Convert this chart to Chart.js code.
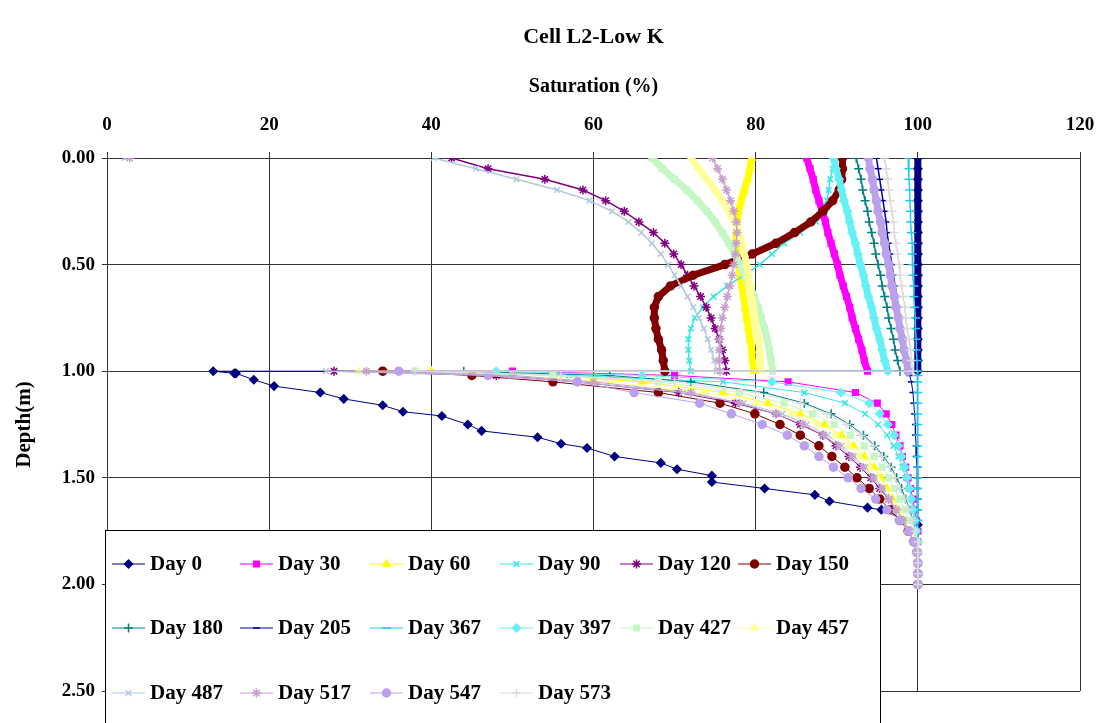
<!DOCTYPE html>
<html>
<head>
<meta charset="utf-8">
<script src="https://cdn.jsdelivr.net/npm/chart.js@4"></script>
<style>
  html, body { margin: 0; padding: 0; background: #fff; overflow: hidden; }
  #wrap { width: 1100px; height: 723px; position: relative; }
  canvas { display: block; }
</style>
</head>
<body>
<div id="wrap"><canvas id="chart-cell"></canvas></div>
<script>
// depth (m) of the read points
const depthUpper = [0, 0.05, 0.1, 0.15, 0.2, 0.25, 0.3, 0.35, 0.4, 0.45, 0.5, 0.55, 0.6, 0.65, 0.7, 0.75, 0.8, 0.85, 0.9, 0.95, 1.0];
const depthLower = [1.0, 1.02, 1.05, 1.1, 1.15, 1.2, 1.25, 1.3, 1.35, 1.4, 1.45, 1.5, 1.55, 1.6, 1.65, 1.7, 1.75, 1.8, 1.85, 1.9, 1.95, 2.0];
const depthDay0Lower = [1.0, 1.01, 1.01, 1.04, 1.07, 1.1, 1.13, 1.16, 1.19, 1.21, 1.25, 1.28, 1.31, 1.34, 1.36, 1.4, 1.43, 1.46, 1.49, 1.52, 1.55, 1.58, 1.61, 1.64, 1.65, 1.72, 2.0];

// saturation (%) - upper layer
const day0Upper   = [100, 100, 100, 100, 100, 100, 100, 100, 100, 100, 100, 100, 100, 100, 100, 100, 100, 100, 100, 100, 100];
const day30Upper  = [86.3, 86.7, 87.1, 87.4, 87.8, 88.2, 88.6, 88.9, 89.3, 89.7, 90.1, 90.4, 90.8, 91.2, 91.6, 91.9, 92.3, 92.7, 93.1, 93.4, 93.8];
const day60Upper  = [79.5, 79.3, 79.0, 78.6, 78.2, 77.9, 77.7, 77.6, 77.6, 77.7, 77.9, 78.1, 78.3, 78.5, 78.7, 78.9, 79.1, 79.3, 79.5, 79.6, 79.8];
const day90Upper  = [89.8, 89.5, 89.2, 89.0, 88.8, 88.5, 87.5, 85.5, 83.5, 82.0, 80.5, 78.5, 76.5, 74.8, 73.5, 72.5, 72.0, 71.7, 71.7, 71.8, 72.0];
const day120Upper = [42.5, 47.0, 54.0, 58.7, 61.5, 63.8, 65.6, 67.4, 68.8, 69.9, 70.8, 71.6, 72.4, 73.2, 73.9, 74.5, 75.0, 75.5, 75.9, 76.2, 76.4];
const day150Upper = [90.7, 90.7, 90.6, 90.3, 89.5, 88.3, 86.8, 84.8, 82.5, 79.6, 76.2, 72.3, 69.5, 68.0, 67.5, 67.5, 67.7, 68.0, 68.4, 68.6, 68.8];
const day180Upper = [92.4, 92.7, 93.0, 93.2, 93.5, 93.8, 94.0, 94.3, 94.6, 94.8, 95.1, 95.4, 95.6, 95.9, 96.2, 96.4, 96.7, 97.0, 97.2, 97.5, 97.8];
const day205Upper = [94.9, 95.1, 95.3, 95.5, 95.7, 95.9, 96.1, 96.2, 96.4, 96.6, 96.8, 97.0, 97.2, 97.4, 97.6, 97.8, 97.9, 98.1, 98.3, 98.5, 98.7];
const day367Upper = [98.8, 98.9, 98.9, 99.0, 99.0, 99.1, 99.1, 99.2, 99.3, 99.3, 99.4, 99.4, 99.5, 99.5, 99.6, 99.7, 99.7, 99.8, 99.8, 99.9, 99.9];
const day397Upper = [89.6, 89.9, 90.3, 90.6, 90.9, 91.3, 91.6, 91.9, 92.3, 92.6, 92.9, 93.3, 93.6, 93.9, 94.3, 94.6, 94.9, 95.3, 95.6, 95.9, 96.3];
const day427Upper = [67.2, 68.5, 70.0, 71.5, 72.8, 74.0, 75.0, 75.9, 76.7, 77.4, 78.1, 78.7, 79.3, 79.8, 80.3, 80.7, 81.1, 81.4, 81.7, 81.9, 82.1];
const day457Upper = [72.0, 73.0, 74.0, 75.0, 75.9, 76.7, 77.4, 77.9, 78.3, 78.6, 78.9, 79.1, 79.3, 79.5, 79.7, 79.9, 80.1, 80.3, 80.5, 80.6, 80.7];
const day487Upper = [40.3, 45.5, 50.5, 55.5, 59.5, 62.3, 64.3, 65.9, 67.2, 68.3, 69.2, 70.0, 70.8, 71.6, 72.3, 73.0, 73.6, 74.1, 74.5, 74.9, 75.2];
const day517Upper = [74.7, 75.3, 75.9, 76.4, 76.9, 77.3, 77.6, 77.7, 77.6, 77.5, 77.3, 77.1, 76.8, 76.5, 76.2, 75.9, 75.7, 75.6, 75.5, 75.5, 75.6];
const day547Upper = [93.9, 94.1, 94.4, 94.6, 94.9, 95.1, 95.4, 95.6, 95.9, 96.1, 96.4, 96.6, 96.8, 97.1, 97.3, 97.6, 97.8, 98.1, 98.3, 98.6, 98.8];
const day573Upper = [95.9, 96.1, 96.3, 96.4, 96.6, 96.8, 97.0, 97.1, 97.3, 97.5, 97.7, 97.8, 98.0, 98.2, 98.4, 98.5, 98.7, 98.9, 99.1, 99.2, 99.4];

// saturation (%) - lower layer
const day0Lower   = [13.1, 15.7, 15.9, 18.1, 20.6, 26.3, 29.2, 34.0, 36.5, 41.3, 44.5, 46.2, 53.1, 56.0, 59.2, 62.6, 68.3, 70.3, 74.6, 74.6, 81.1, 87.3, 89.1, 93.8, 95.5, 100, 100];
const day30Lower  = [50, 70, 84, 92.3, 95.0, 96.1, 96.8, 97.3, 97.8, 98.1, 98.5, 98.8, 99.1, 99.4, 99.6, 99.8, 100, 100, 100, 100, 100, 100];
const day60Lower  = [40, 55, 66, 76, 81.5, 85.5, 88.5, 90.6, 92.1, 93.4, 94.6, 95.5, 96.2, 96.9, 97.6, 98.3, 99.0, 99.5, 99.9, 100, 100, 100];
const day90Lower  = [36, 57, 76, 86, 91, 93.5, 95.1, 96.2, 97, 97.6, 98.1, 98.5, 98.9, 99.2, 99.5, 99.7, 99.9, 100, 100, 100, 100, 100];
const day120Lower = [28, 48, 58, 70.5, 77.5, 82.5, 85.5, 88.3, 89.9, 91.5, 92.9, 94.2, 95.3, 96.4, 97.3, 98.2, 98.9, 99.5, 99.9, 100, 100, 100];
const day150Lower = [34, 45, 55, 68, 75.6, 79.9, 83.0, 85.5, 87.8, 89.4, 91.0, 92.5, 94.0, 95.3, 96.6, 97.8, 98.8, 99.5, 99.9, 100, 100, 100];
const day180Lower = [44, 62, 72, 81, 86, 89.3, 91.6, 93.3, 94.7, 95.8, 96.7, 97.4, 98, 98.5, 99, 99.4, 99.7, 100, 100, 100, 100, 100];
const day205Lower = [98.7, 99.0, 99.2, 99.4, 99.5, 99.6, 99.7, 99.7, 99.8, 99.8, 99.9, 99.9, 99.9, 100, 100, 100, 100, 100, 100, 100, 100, 100];
const day367Lower = [100, 100, 100, 100, 100, 100, 100, 100, 100, 100, 100, 100, 100, 100, 100, 100, 100, 100, 100, 100, 100, 100];
const day397Lower = [48, 66, 82, 90.5, 94, 95.3, 96.3, 97.1, 97.6, 98, 98.4, 98.7, 99, 99.2, 99.4, 99.6, 99.8, 100, 100, 100, 100, 100];
const day427Lower = [38, 55, 68, 78, 83.5, 87, 89.7, 91.7, 93.4, 94.6, 95.6, 96.4, 97.1, 97.8, 98.4, 99, 99.5, 99.8, 100, 100, 100, 100];
const day457Lower = [31, 50, 62, 73.5, 80, 84.5, 87.6, 89.8, 91.4, 92.8, 94, 95, 95.8, 96.6, 97.4, 98.1, 98.8, 99.4, 99.8, 100, 100, 100];
const day487Lower = [27, 47, 58, 71, 78.5, 83.3, 86.3, 88.9, 90.6, 92.1, 93.5, 94.7, 95.7, 96.6, 97.4, 98.2, 98.9, 99.5, 99.9, 100, 100, 100];
const day517Lower = [32, 50, 60, 72, 78, 82.5, 85.8, 88.4, 90.2, 91.8, 93.2, 94.4, 95.5, 96.4, 97.3, 98.1, 98.8, 99.4, 99.8, 100, 100, 100];
const day547Lower = [36, 47, 58, 65, 73.1, 77, 80.8, 83.9, 86, 87.8, 89.6, 91.4, 93, 94.8, 96.2, 97.7, 98.9, 99.5, 99.9, 100, 100, 100];
const day573Lower = [38, 56, 70, 80, 85.5, 88.8, 91.2, 93, 94.5, 95.6, 96.5, 97.2, 97.8, 98.4, 98.9, 99.3, 99.7, 100, 100, 100, 100, 100];

// surface readings at 0 m
const surfacePoints = { "Day 487": 2.2, "Day 517": 2.8 };

const xTicks = [0, 20, 40, 60, 80, 100, 120];
const yTicks = [0, 0.5, 1.0, 1.5, 2.0, 2.5];

// label, upper, lower, lower depth, color, marker, radius, band
const series = [
    ["Day 0",   day0Upper,   day0Lower,   depthDay0Lower, "#000080", "rectRot", 4,   true],
    ["Day 30",  day30Upper,  day30Lower,  depthLower, "#ff00ff", "rect",     4,   true],
    ["Day 60",  day60Upper,  day60Lower,  depthLower, "#ffff00", "triangle", 4,   true],
    ["Day 90",  day90Upper,  day90Lower,  depthLower, "#33e6e6", "crossRot", 4,   false],
    ["Day 120", day120Upper, day120Lower, depthLower, "#800080", "star",     4.5, false],
    ["Day 150", day150Upper, day150Lower, depthLower, "#800000", "circle",   4,   true],
    ["Day 180", day180Upper, day180Lower, depthLower, "#008080", "cross",    4.5, false],
    ["Day 205", day205Upper, day205Lower, depthLower, "#0000a0", "line",     3.5, false],
    ["Day 367", day367Upper, day367Lower, depthLower, "#22c8f0", "line",     4.5, false],
    ["Day 397", day397Upper, day397Lower, depthLower, "#66f0f4", "rectRot",  4,   true],
    ["Day 427", day427Upper, day427Lower, depthLower, "#c4f7c4", "rect",     4,   true],
    ["Day 457", day457Upper, day457Lower, depthLower, "#ffff99", "triangle", 4,   true],
    ["Day 487", day487Upper, day487Lower, depthLower, "#b4c8dc", "crossRot", 4,   false],
    ["Day 517", day517Upper, day517Lower, depthLower, "#c8a0cc", "star",     4.5, false],
    ["Day 547", day547Upper, day547Lower, depthLower, "#bba0ea", "circle",   4,   true],
    ["Day 573", day573Upper, day573Lower, depthLower, "#dcdcdc", "cross",    4.5, false],
];

Chart.defaults.font.family = "'Liberation Serif', 'Times New Roman', serif";
Chart.defaults.color = "#000";

const datasets = series.map(function (s, i) {
    const pts = [];
    if (surfacePoints[s[0]] !== undefined) pts.push({ x: surfacePoints[s[0]], y: 0 });
    s[1].forEach(function (v, k) { pts.push({ x: v, y: depthUpper[k] }); });
    s[2].forEach(function (v, k) { pts.push({ x: v, y: s[3][k] }); });
    const band = s[7];
    return {
        label: s[0],
        data: pts,
        showLine: true,
        borderColor: s[4],
        backgroundColor: s[4],
        borderWidth: 1,
        pointStyle: s[5],
        pointRadius: s[6],
        pointBorderWidth: 1.5,
        pointBorderColor: s[4],
        pointBackgroundColor: s[4],
        order: series.length - i,
        segment: {
            // the surface jump runs along the top border, where the border stays visible
            borderColor: function (ctx) {
                return ctx.p0.parsed.y === 0 && ctx.p1.parsed.y === 0 ? "rgba(0,0,0,0)" : undefined;
            },
            borderWidth: function (ctx) {
                const upper = ctx.p0.parsed.y < 0.999 && ctx.p1.parsed.y <= 1.0001 && ctx.p0.parsed.x > 5;
                if (!upper) return 1;
                return band ? 7 : 1.5;
            },
        },
    };
});

// Excel-style legend box drawn over the lower left of the plot
const boxLegend = {
    id: "boxLegend",
    afterDraw: function (chart) {
        const ctx = chart.ctx;
        const cols = [112, 240, 370, 500, 620, 738];
        const rows = [564, 628, 693];
        ctx.save();
        ctx.fillStyle = "#fff";
        ctx.fillRect(105, 530, 775, 200);
        ctx.strokeStyle = "#000";
        ctx.lineWidth = 1;
        ctx.strokeRect(105.5, 530.5, 775, 200);
        chart.data.datasets.forEach(function (ds, i) {
            const x = cols[i % 6];
            const y = rows[Math.floor(i / 6)];
            ctx.strokeStyle = ds.borderColor;
            ctx.fillStyle = ds.backgroundColor;
            ctx.lineWidth = 1;
            ctx.beginPath();
            ctx.moveTo(x, y);
            ctx.lineTo(x + 33, y);
            ctx.stroke();
            ctx.lineWidth = 1.5;
            Chart.helpers.drawPoint(ctx, {
                pointStyle: ds.pointStyle,
                radius: ds.pointRadius,
                rotation: 0,
                borderWidth: 1.5,
            }, x + 16.5, y);
            ctx.fillStyle = "#000";
            ctx.font = "bold 21px 'Liberation Serif', 'Times New Roman', serif";
            ctx.textBaseline = "middle";
            ctx.textAlign = "left";
            ctx.fillText(ds.label, x + 38, y + 1);
        });
        ctx.restore();
    },
};

new Chart(document.getElementById("chart-cell"), {
    type: "scatter",
    data: { datasets: datasets },
    plugins: [boxLegend],
    options: {
        responsive: true,
        maintainAspectRatio: false,
        animation: false,
        layout: { padding: { left: 0, right: 20, top: 0, bottom: 32 } },
        plugins: {
            legend: { display: false },
            tooltip: { enabled: false },
            title: {
                display: true,
                fullSize: false,
                text: "Cell L2-Low K",
                font: { size: 22, weight: "bold" },
                padding: { top: 24, bottom: 10 },
                color: "#000",
            },
        },
        scales: {
            x: {
                type: "linear",
                position: "top",
                min: 0,
                max: 120,
                afterBuildTicks: function (scale) {
                    scale.ticks = xTicks.map(function (v) { return { value: v }; });
                },
                afterFit: function (scale) {
                    scale.height = 97.6;
                    // let the "120" label hang into the right margin
                    scale.paddingRight = 0;
                    scale.paddingLeft = 0;
                },
                ticks: {
                    font: { size: 19, weight: "bold" },
                    color: "#000",
                    padding: 16,
                    maxRotation: 0,
                },
                grid: { color: "#333", lineWidth: 1, tickLength: 6 },
                border: { color: "#333" },
                title: {
                    display: true,
                    text: "Saturation (%)",
                    font: { size: 20, weight: "bold" },
                    color: "#000",
                    padding: { top: 14, bottom: 0 },
                },
            },
            y: {
                type: "linear",
                reverse: true,
                min: 0,
                max: 2.5,
                afterBuildTicks: function (scale) {
                    scale.ticks = yTicks.map(function (v) { return { value: v }; });
                },
                afterFit: function (scale) { scale.width = 107; },
                ticks: {
                    font: { size: 19, weight: "bold" },
                    color: "#000",
                    padding: 7,
                    callback: function (v) { return Number(v).toFixed(2); },
                },
                grid: { color: "#333", lineWidth: 1, tickLength: 5 },
                border: { color: "#333" },
                title: {
                    display: true,
                    text: "Depth(m)",
                    font: { size: 21, weight: "bold" },
                    color: "#000",
                    padding: { top: 12, bottom: 0 },
                },
            },
        },
    },
});
</script>
</body>
</html>
